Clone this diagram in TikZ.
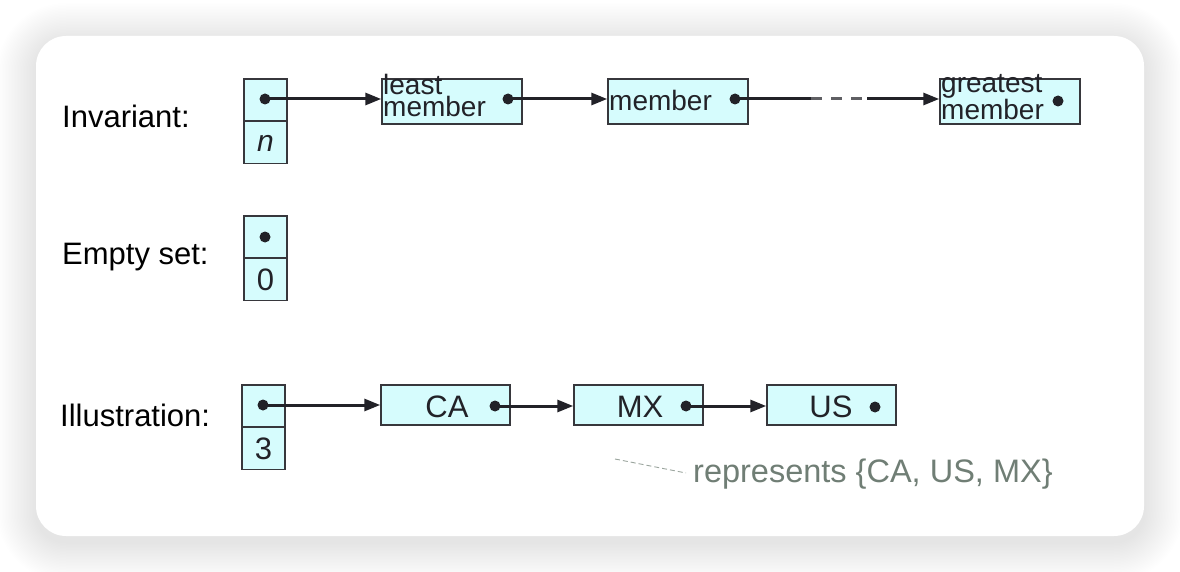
\documentclass[tikz,border=0pt]{standalone}
\usepackage{fontspec}
\setmainfont{Liberation Sans}
\usetikzlibrary{arrows.meta}
\definecolor{cellfill}{RGB}{214,252,253}
\definecolor{edgecol}{RGB}{55,55,60}
\definecolor{inkcol}{RGB}{34,34,40}
\definecolor{notecol}{RGB}{112,126,117}
\tikzset{
  cellbox/.style={draw=edgecol,fill=cellfill,line width=1.5pt,inner sep=0pt,minimum width=43pt,minimum height=42pt},
  elembox/.style={draw=edgecol,fill=cellfill,line width=1.5pt,inner sep=0pt,minimum width=140pt,minimum height=45pt},
  smallbox/.style={draw=edgecol,fill=cellfill,line width=1.5pt,inner sep=0pt,minimum width=129pt,minimum height=40pt},
  ptdot/.style={circle,fill=inkcol,inner sep=0pt,minimum size=11pt},
  txt/.style={font=\fontsize{31}{32}\selectfont,text=inkcol,inner sep=0pt},
  rowlabel/.style={font=\fontsize{31}{32}\selectfont,text=black,inner sep=0pt,anchor=base west},
  link/.style={draw=inkcol,line width=3pt,-{Triangle[length=16pt,width=12pt]}},
  linkplain/.style={draw=inkcol,line width=3pt},
  twoline/.style={font=\fontsize{28}{21.5}\selectfont,text=inkcol,inner sep=0pt,align=left,anchor=north west},
}
\begin{document}
\begin{tikzpicture}[x=1pt,y=-1pt]
\useasboundingbox (0,0) rectangle (1180,572);
% shadow and card
\foreach \i in {1,...,26}{
  \fill[black,opacity=0.0042,rounded corners={30+1.5*\i}] (36-1.5*\i,36-1.5*\i+6) rectangle (1144+1.5*\i,536+1.5*\i+6);
}
\fill[white,rounded corners=30] (36,36) rectangle (1144,536);

% ---- Invariant row
\node[rowlabel] (linv) at (62,128) {Invariant:};
\node[cellbox] (ic1) at (265.5,100) {};
\node[cellbox] (ic2) at (265.5,142.5) {};
\node[txt,font=\fontsize{30}{31}\selectfont\itshape] (in) at (265.5,143) {n};
\node[ptdot] (id0) at (265,99) {};
\node[elembox] (lm) at (452,101.5) {};
\node[twoline] (lmt) at (383,74.5) {least\\member};
\node[ptdot] (id1) at (508,99) {};
\node[elembox] (mb) at (678,101.5) {};
\node[txt,font=\fontsize{28}{29}\selectfont,anchor=west] (mbt) at (609,100) {member};
\node[ptdot] (id2) at (735,99) {};
\node[elembox] (gm) at (1010,101.5) {};
\node[twoline] (gmt) at (941,74.5) {greatest\\member};
\node[ptdot] (id3) at (1058,101) {};
\coordinate (dsa) at (811,99);
\coordinate (dsb) at (867,99);
\draw[link] (id0.center) -- (lm.west |- id0);
\draw[link] (id1.center) -- (mb.west |- id1);
\draw[linkplain] (id2.center) -- (dsa);
\draw[linkplain,draw=edgecol!80,dash pattern=on 11pt off 9pt] (dsa) -- (dsb);
\draw[link] (dsb) -- (gm.west |- dsb);

% ---- Empty set row
\node[rowlabel] (lemp) at (62,264) {Empty set:};
\node[cellbox] (ec1) at (265.5,237) {};
\node[cellbox] (ec2) at (265.5,279.5) {};
\node[ptdot] (ed0) at (265,237) {};
\node[txt] (ez) at (265.5,280) {0};

% ---- Illustration row
\node[rowlabel] (lill) at (60,426) {Illustration:};
\node[cellbox] (xc1) at (263.5,406) {};
\node[cellbox] (xc2) at (263.5,448.5) {};
\node[ptdot] (xd0) at (263,405) {};
\node[txt] (xthree) at (263.5,449) {3};
\node[smallbox] (ca) at (445.5,405) {};
\node[txt] (cat) at (447,407) {CA};
\node[ptdot] (xd1) at (495,406) {};
\node[smallbox] (mx) at (638.5,405) {};
\node[txt] (mxt) at (640,407) {MX};
\node[ptdot] (xd2) at (686,406) {};
\node[smallbox] (us) at (831.5,405) {};
\node[txt] (ust) at (831,407) {US};
\node[ptdot] (xd3) at (875,407) {};
\draw[link] (xd0.center) -- (ca.west |- xd0);
\draw[link] (xd1.center) -- (mx.west |- xd1);
\draw[link] (xd2.center) -- (us.west |- xd2);

% note
\node[font=\fontsize{32.5}{34}\selectfont,text=notecol,inner sep=0pt,anchor=west] (note) at (693,474) {represents \{CA, US, MX\}};
\coordinate (nstart) at (615,459);
\coordinate (nend) at (686,473);
\draw[notecol!70,line width=0.9pt,dash pattern=on 5pt off 3pt] (nstart) -- (nend);
\end{tikzpicture}
\end{document}
